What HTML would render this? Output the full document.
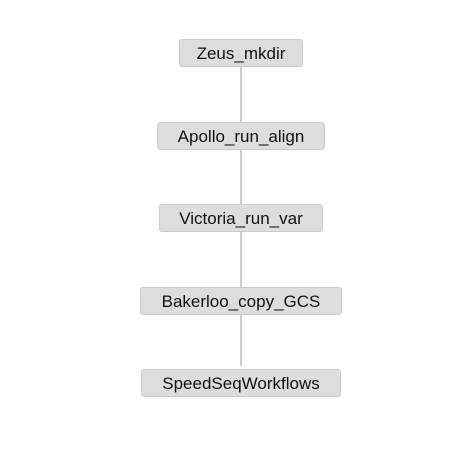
<!DOCTYPE html>
<html><head><style>
body{margin:0;width:476px;height:450px;background:#fff;position:relative;font-family:"Liberation Sans",sans-serif}
.l{position:absolute;left:240px;width:2px;background:#ccc}
.b{position:absolute;height:28px;line-height:27px;background:#ddd;border:1px solid #ccc;border-radius:3px;text-align:center;font-size:17px;color:#111;box-sizing:border-box}
</style></head><body>
<div class="l" style="top:66px;height:300px"></div>
<div class="b" style="left:179px;top:39px;width:124px">Zeus_mkdir</div>
<div class="b" style="left:157px;top:122px;width:168px">Apollo_run_align</div>
<div class="b" style="left:159px;top:204px;width:164px">Victoria_run_var</div>
<div class="b" style="left:140px;top:287px;width:202px">Bakerloo_copy_GCS</div>
<div class="b" style="left:141px;top:369px;width:200px">SpeedSeqWorkflows</div>
</body></html>
